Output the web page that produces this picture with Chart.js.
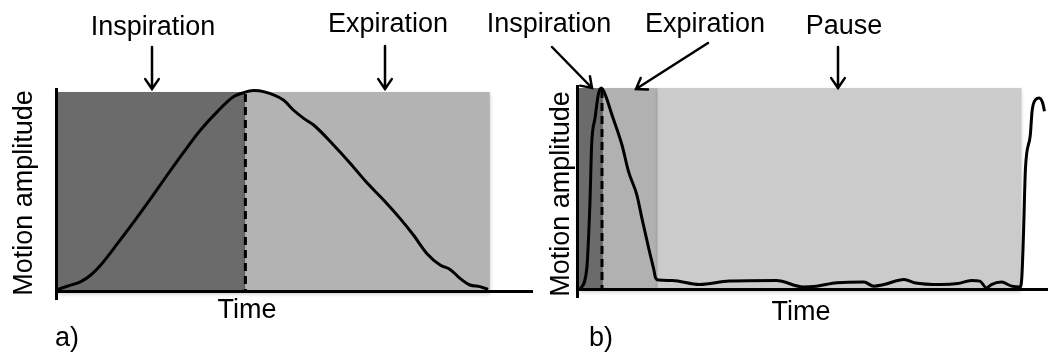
<!DOCTYPE html>
<html>
<head>
<meta charset="utf-8">
<script src="https://cdn.jsdelivr.net/npm/chart.js@4/dist/chart.umd.min.js"></script>
<style>
  html, body { margin: 0; padding: 0; background: #ffffff; }
  #wrap { position: relative; width: 1048px; height: 354px; }
  #wrap canvas { position: absolute; left: 0; top: 0; }
</style>
</head>
<body>
<div id="wrap">
  <canvas id="panelA" width="1048" height="354"></canvas>
  <canvas id="panelB" width="1048" height="354"></canvas>
</div>
<script>
// ---- Panel a: regular breathing cycle (time and amplitude in % of the cycle) ----
const timeA = [0, 2.3, 5.3, 7.6, 9.9, 13.8, 17.6, 21.5, 25.3, 29.2, 33.0, 36.9, 40.7, 43.0,
               45.3, 47.6, 52.2, 54.5, 56.9, 59.2, 63.8, 67.7, 71.5, 75.4, 79.2, 82.3, 85.4,
               88.5, 90.8, 93.1, 95.4, 97.7, 99.6];
const amplitudeA = [1.3, 3, 5.2, 8.5, 13.5, 24.3, 35.2, 46.8, 58.5, 70.2, 81, 90.2, 97.7, 99.7,
                    100.7, 100.2, 96, 91, 86.8, 83.5, 73.5, 64.3, 54.7, 46, 36.8, 28.5, 19.3,
                    13.5, 11.3, 6.8, 3.5, 2.7, 1.3];
const phaseEdgesA = [0, 43.4, 100];
const phaseNamesA = ['Inspiration', 'Expiration'];
const peakTimeA = 43.4;

// ---- Panel b: short breath followed by a long pause ----
const timeB = [0.2, 1.74, 2.48, 2.86, 3.63, 4.38, 5.07, 5.9, 7.42, 9.7, 11.2, 13.1, 14.25, 15.8,
               16.9, 17.3, 18.0, 21.1, 27.2, 34.0, 44.6, 50.7, 53.7, 58.3, 64.4, 66.6, 68.9,
               73.5, 75.8, 81.8, 85.6, 88.7, 90.6, 92.1, 93.2, 95.5, 97.8, 99.7, 100.1, 100.45,
               100.9, 102.0, 102.4, 103.2, 104.0, 104.8, 105.2];
const amplitudeB = [0.2, 10.2, 43.6, 71.9, 85.2, 96.9, 100, 96.9, 86.9, 71.9, 58.6, 46.9, 35.2,
                    20.2, 10.2, 6.0, 4.9, 4.7, 2.7, 4.4, 4.7, 1.5, 1.9, 3.6, 3.9, 1.9, 2.7, 5.2,
                    3.6, 2.7, 3.2, 4.7, 4.4, 1.0, 2.7, 3.9, 1.9, 1.5, 6.9, 27.0, 60.0, 76.7,
                    88.5, 94.3, 95.1, 92.6, 88.5];
const phaseEdgesB = [0, 5.4, 17.8, 100];
const phaseNamesB = ['Inspiration', 'Expiration', 'Pause'];
const peakTimeB = 5.2;

const FONT = '"Liberation Sans", Arial, Helvetica, sans-serif';

function drawArrow(ctx, x0, y0, x1, y1) {
  const ang = Math.atan2(y1 - y0, x1 - x0);
  const head = 12, spread = 0.6;
  ctx.save();
  ctx.strokeStyle = '#000';
  ctx.lineWidth = 2.5;
  ctx.lineCap = 'round';
  ctx.beginPath();
  ctx.moveTo(x0, y0);
  ctx.lineTo(x1, y1);
  ctx.moveTo(x1 - head * Math.cos(ang - spread), y1 - head * Math.sin(ang - spread));
  ctx.lineTo(x1, y1);
  ctx.lineTo(x1 - head * Math.cos(ang + spread), y1 - head * Math.sin(ang + spread));
  ctx.stroke();
  ctx.restore();
}

// Shaded phases, dashed end-of-inspiration marker, axes and annotations
const breathingPlugin = {
  id: 'breathing',
  beforeDatasetsDraw(chart, args, o) {
    const { ctx, scales: { x, y } } = chart;
    const top = y.getPixelForValue(100), bottom = y.getPixelForValue(0);
    ctx.save();
    ctx.shadowColor = 'rgba(0,0,0,0.22)';
    ctx.shadowBlur = 4;
    ctx.shadowOffsetY = 2;
    for (let i = 0; i < o.edges.length - 1; i++) {
      const x0 = x.getPixelForValue(o.edges[i]);
      const x1 = x.getPixelForValue(o.edges[i + 1]);
      ctx.fillStyle = o.colors[i];
      ctx.fillRect(x0, top, x1 - x0, bottom - top);
    }
    ctx.restore();
    ctx.save();
    const px = x.getPixelForValue(o.peak);
    ctx.strokeStyle = '#000';
    ctx.lineWidth = 3;
    ctx.setLineDash([8, 5]);
    ctx.beginPath();
    ctx.moveTo(px, top + 2);
    ctx.lineTo(px, bottom);
    ctx.stroke();
    ctx.restore();
  },
  afterDatasetsDraw(chart, args, o) {
    const { ctx, chartArea: ca, scales: { y } } = chart;
    const bottom = y.getPixelForValue(0);
    ctx.save();
    ctx.strokeStyle = '#000';
    ctx.lineWidth = 3;
    ctx.beginPath();
    ctx.moveTo(ca.left - 1.5, ca.top);
    ctx.lineTo(ca.left - 1.5, bottom + 8);
    ctx.moveTo(ca.left - 3, bottom - 0.5);
    ctx.lineTo(ca.right, bottom - 0.5);
    ctx.stroke();
    ctx.restore();
  },
  afterDraw(chart, args, o) {
    const ctx = chart.ctx;
    const L = o.layout;
    ctx.save();
    ctx.fillStyle = '#000';
    ctx.font = '27px ' + FONT;
    ctx.textBaseline = 'alphabetic';
    ctx.textAlign = 'center';
    o.names.forEach((name, i) => {
      const lab = L.labels[i];
      ctx.fillText(name, lab.x, lab.y);
      drawArrow(ctx, lab.arrow[0], lab.arrow[1], lab.arrow[2], lab.arrow[3]);
    });
    ctx.fillText(o.xTitle, L.xTitle[0], L.xTitle[1]);
    ctx.textAlign = 'left';
    ctx.fillText(o.tag, L.tag[0], L.tag[1]);
    ctx.save();
    ctx.translate(L.yTitle[0], L.yTitle[1]);
    ctx.rotate(-Math.PI / 2);
    ctx.textAlign = 'center';
    ctx.font = '27px ' + FONT;
    ctx.fillText(o.yTitle, 0, 0);
    ctx.restore();
    ctx.restore();
  }
};

function makePanel(id, times, amps, xMax, yMax, padding, opts) {
  return new Chart(document.getElementById(id), {
    type: 'line',
    data: {
      datasets: [{
        data: times.map((t, i) => ({ x: t, y: amps[i] })),
        borderColor: '#000000',
        borderWidth: 3,
        pointRadius: 0,
        cubicInterpolationMode: 'monotone',
        fill: false,
        clip: false
      }]
    },
    options: {
      responsive: false,
      animation: false,
      devicePixelRatio: 1,
      events: [],
      layout: { padding },
      scales: {
        x: { type: 'linear', min: 0, max: xMax, display: false },
        y: { type: 'linear', min: 0, max: yMax, display: false }
      },
      plugins: {
        legend: { display: false },
        tooltip: { enabled: false },
        breathing: opts
      }
    },
    plugins: [breathingPlugin]
  });
}

makePanel('panelA', timeA, amplitudeA, 110, 102,
  { left: 58, right: 515, top: 88, bottom: 62 },
  {
    edges: phaseEdgesA,
    colors: ['#6b6b6b', '#b3b3b3'],
    peak: peakTimeA,
    names: phaseNamesA,
    xTitle: 'Time',
    yTitle: 'Motion amplitude',
    tag: 'a)',
    layout: {
      labels: [
        { x: 153, y: 35, arrow: [152, 47, 152, 89] },
        { x: 388, y: 32, arrow: [385, 46, 385, 89] }
      ],
      xTitle: [247, 318],
      yTitle: [32, 193],
      tag: [55, 346]
    }
  });

makePanel('panelB', timeB, amplitudeB, 106, 101.5,
  { left: 579, right: 0, top: 85, bottom: 64 },
  {
    edges: phaseEdgesB,
    colors: ['#6b6b6b', '#b1b1b1', '#cbcbcb'],
    peak: peakTimeB,
    names: phaseNamesB,
    xTitle: 'Time',
    yTitle: 'Motion amplitude',
    tag: 'b)',
    layout: {
      labels: [
        { x: 549, y: 32, arrow: [552, 47, 592, 88] },
        { x: 705, y: 32, arrow: [708, 43, 636, 89] },
        { x: 844, y: 34, arrow: [838, 47, 838, 88] }
      ],
      xTitle: [801, 320],
      yTitle: [569, 194],
      tag: [589, 346]
    }
  });
</script>
</body>
</html>
